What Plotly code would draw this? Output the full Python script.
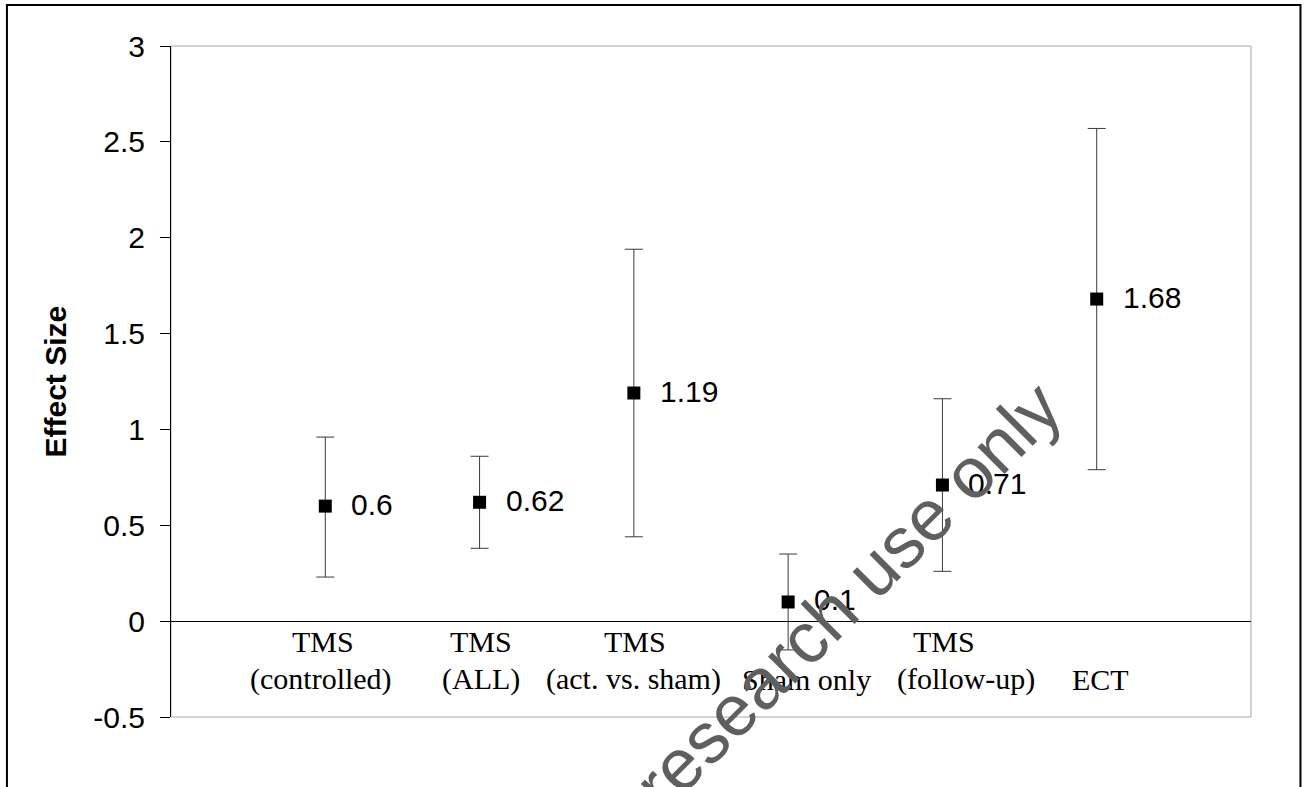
import plotly.graph_objects as go

# ---- data ----
cat_line1 = ["TMS", "TMS", "TMS", "", "TMS", ""]
cat_line2 = ["(controlled)", "(ALL)", "(act. vs. sham)", "Sham only", "(follow-up)", "ECT"]
effect = [0.6, 0.62, 1.19, 0.1, 0.71, 1.68]
ci_lower = [0.23, 0.38, 0.44, -0.15, 0.26, 0.79]
ci_upper = [0.96, 0.86, 1.94, 0.35, 1.16, 2.57]
tick_vals = [-0.5, 0, 0.5, 1, 1.5, 2, 2.5, 3]
tick_labels = ["-0.5", "0", "0.5", "1", "1.5", "2", "2.5", "3"]
y_title = "Effect Size"
watermark = "For research use only"

# ---- style ----
line1_dx = [-2, 1, 1, 0, 2, 0]
line2_dx = [-4, 1, 0, 18, 24, 4]
SANS = "Liberation Sans, Arial, sans-serif"
SERIF = "Liberation Serif, Times New Roman, serif"

xpos = list(range(1, len(effect) + 1))
err_plus = [u - v for u, v in zip(ci_upper, effect)]
err_minus = [v - l for v, l in zip(effect, ci_lower)]

fig = go.Figure()
fig.add_trace(go.Scatter(
    x=xpos, y=effect, mode="markers",
    marker=dict(symbol="square", size=13, color="black"),
    error_y=dict(type="data", symmetric=False, array=err_plus, arrayminus=err_minus,
                 color="#3a3a3a", thickness=1, width=9),
    showlegend=False, hoverinfo="skip",
))

annotations = []
# data labels
for x, v in zip(xpos, effect):
    annotations.append(dict(x=x, y=v, xref="x", yref="y", text=f"{v:g}", showarrow=False,
                            xanchor="left", yanchor="middle", xshift=24, yshift=2,
                            font=dict(family=SANS, size=30, color="black")))
# category labels near zero line
for x, t1, t2, d1, d2 in zip(xpos, cat_line1, cat_line2, line1_dx, line2_dx):
    if t1:
        annotations.append(dict(x=x, y=0, xref="x", yref="y", text=t1, showarrow=False,
                                xanchor="center", yanchor="middle", xshift=d1, yshift=-20,
                                font=dict(family=SERIF, size=30, color="black")))
    annotations.append(dict(x=x, y=0, xref="x", yref="y", text=t2, showarrow=False,
                            xanchor="center", yanchor="middle", xshift=d2, yshift=-58,
                            font=dict(family=SERIF, size=30, color="black")))
# y-axis title
annotations.append(dict(x=-0.1074, y=0.5, xref="paper", yref="paper", text="<b>" + y_title + "</b>",
                        showarrow=False, textangle=-90, xanchor="center", yanchor="middle",
                        font=dict(family=SANS, size=30, color="black")))
# watermark
annotations.append(dict(x=0.5843, y=0.1133, xref="paper", yref="paper", text=watermark,
                        showarrow=False, textangle=-45, xanchor="center", yanchor="middle",
                        font=dict(family=SANS, size=72, color="#5f5f5f")))

shapes = [
    # plot area frame (light gray)
    dict(type="rect", xref="paper", yref="paper", x0=0, x1=1, y0=0, y1=1,
         line=dict(color="#a8a8a8", width=1), layer="below"),
    # outer chart border
    dict(type="rect", xref="paper", yref="paper", x0=-0.1519, x1=1.0458, y0=-0.2, y1=1.0611,
         line=dict(color="black", width=2), layer="above"),
]

fig.update_layout(
    width=1305, height=787,
    margin=dict(l=171, r=54, t=46, b=70),
    paper_bgcolor="white", plot_bgcolor="white",
    annotations=annotations, shapes=shapes,
    xaxis=dict(range=[0, 7], showgrid=False, zeroline=False, showline=False,
               showticklabels=False, ticks=""),
    yaxis=dict(range=[-0.5, 3], tickvals=tick_vals, ticktext=tick_labels,
               showgrid=False, zeroline=True, zerolinecolor="black", zerolinewidth=1,
               showline=True, linecolor="black", linewidth=1,
               ticks="outside", ticklen=10, tickcolor="black", tickwidth=1,
               ticklabelstandoff=9,
               tickfont=dict(family=SANS, size=30, color="black")),
)

fig.write_html("out.html", config={"displayModeBar": False},
               post_script="document.body.style.margin='0';document.body.style.overflow='hidden';")
